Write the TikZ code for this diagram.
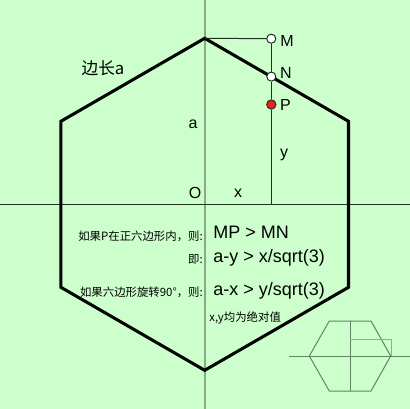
\documentclass[tikz,border=0pt]{standalone}
\usepackage{fontspec}
\setmainfont{Liberation Sans}
\newfontfamily\cjk{Noto Sans CJK SC}
\definecolor{bg}{RGB}{204,255,204}
\definecolor{axisg}{RGB}{136,170,136}
\definecolor{darkl}{RGB}{30,50,30}
\definecolor{smallg}{RGB}{100,130,100}
\definecolor{rectg}{RGB}{150,170,150}
\definecolor{pred}{RGB}{240,30,30}
\begin{document}
\begin{tikzpicture}[x=0.75pt,y=-0.75pt,
  lbl/.style={inner sep=0pt,font=\fontsize{12pt}{14pt}\selectfont},
  big/.style={inner sep=0pt,anchor=west,font=\fontsize{13.5pt}{16pt}\selectfont},
  small/.style={inner sep=0pt,font=\cjk\fontsize{8.55pt}{10pt}\selectfont},
  pt/.style={circle,draw=darkl,line width=0.75pt,minimum size=6.8pt,inner sep=0pt},
  hexline/.style={line width=2.3pt,line join=miter},
  thin/.style={line width=0.75pt,draw=darkl}]
\useasboundingbox[fill=bg] (0,0) rectangle (410,409);
% axes
\draw[axisg,line width=1.5pt] (204.7,0) -- (204.7,409);
\draw[thin] (0,204.3) -- (410,204.3);
% hexagon
\coordinate (T) at (204.7,38.3);
\coordinate (UR) at (348.5,121.3);
\coordinate (LR) at (348.5,287.3);
\coordinate (B) at (204.7,370.3);
\coordinate (LL) at (60.9,287.3);
\coordinate (UL) at (60.9,121.3);
\draw[hexline] (T) -- (UR) -- (LR) -- (B) -- (LL) -- (UL) -- cycle;
% construction lines
\coordinate (Px) at (271.3,204.3);
\node[pt,fill=white] (M) at (271.3,38.7) {};
\node[pt,fill=white] (N) at (271.3,76.6) {};
\node[pt,fill=pred,minimum size=7pt] (P) at (271.3,104.5) {};
\draw[thin] (T) -- (M);
\draw[thin] (M) -- (N);
\draw[thin] (N) -- (P);
\draw[thin] (P) -- (Px);
% labels
\node[lbl] (lM) at (287,41) {M};
\node[lbl] (lN) at (286,72.7) {N};
\node[lbl] (lP) at (285.5,105) {P};
\node[lbl] (ly) at (284,155) {y};
\node[lbl] (lx) at (238,193) {x};
\node[lbl] (lO) at (195,193) {O};
\node[lbl] (la) at (193,124) {a};
\node[inner sep=0pt,font=\cjk\fontsize{12.5pt}{15pt}\selectfont] (side) at (103,68) {边长a};
% text
\node[small,anchor=east] (t1) at (203,236) {如果P在正六边形内，则:};
\node[big] (e1) at (213,232) {MP > MN};
\node[small,anchor=east] (t2) at (203,259) {即:};
\node[big] (e2) at (213,258) {a-y > x/sqrt(3)};
\node[small,anchor=east] (t3) at (203,292) {如果六边形旋转90°，则:};
\node[big] (e3) at (213,291) {a-x > y/sqrt(3)};
\node[small,anchor=west] (t4) at (209,318) {x,y均为绝对值};
% small rotated hexagon
\draw[smallg,line width=0.75pt] (309.3,356) -- (329.3,321) -- (371,321) -- (390.7,356) -- (371,391) -- (329.3,391) -- cycle;
\draw[smallg,line width=0.75pt] (289.3,356) -- (410,356);
\draw[smallg,line width=0.75pt] (350.3,321) -- (350.3,391);
\draw[rectg,line width=0.75pt] (350.3,339.7) -- (391,339.7) -- (391,356);
\end{tikzpicture}
\end{document}
